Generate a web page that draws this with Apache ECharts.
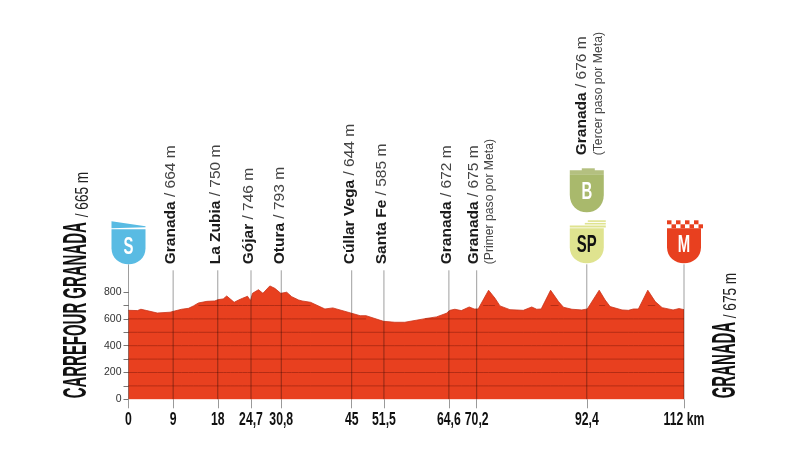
<!DOCTYPE html>
<html><head><meta charset="utf-8">
<style>html,body{margin:0;padding:0;background:#fff}#c{width:800px;height:450px}</style>
<script src="https://cdn.jsdelivr.net/npm/echarts@6/dist/echarts.min.js"></script>
</head><body><div id="c"></div>
<script>
const profile = [[0,664],[1.8,662],[2.5,672],[3.7,662],[5.8,644],[8.4,650],[9.1,657],[10.7,672],[12.1,679],[13.1,697],[14.1,719],[15.8,731],[17.4,734],[18.1,744],[19.1,749],[19.8,771],[20.6,746],[21.3,724],[22.2,741],[23,754],[24,769],[24.6,736],[25,791],[26.2,818],[27.1,791],[28.5,846],[29.5,828],[30.7,791],[31.9,799],[32.9,766],[34.3,741],[35,734],[36.7,724],[39.6,674],[41.2,682],[45,642],[46.7,624],[47.9,624],[51.4,582],[53.7,575],[55.7,575],[58,590],[59.8,602],[62.1,615],[64.1,642],[64.8,664],[65.8,672],[67.1,662],[68.7,689],[69.7,674],[70.5,674],[71.5,741],[72.6,814],[73.9,754],[74.9,697],[76.9,669],[79.6,664],[81.3,689],[82.3,672],[83.2,674],[85.1,814],[86.7,729],[87.7,687],[89.4,672],[91.4,667],[92.5,674],[94.9,814],[96.1,741],[97.1,692],[99.5,667],[100.8,664],[101.8,674],[102.8,674],[104.7,814],[106.2,729],[107.6,684],[109.8,667],[111,677],[112,669]];
const kmTicks = [0,9,18,24.7,30.8,45,51.5,64.6,70.2,92.4,112];
const kmLabels = ['0','9','18','24,7','30,8','45','51,5','64,6','70,2','92,4','112 km'];
const placeKm = [9,18,24.7,30.8,45,51.5,64.6,70.2,92.4];
const placeNames = ['Granada','La Zubia','Gójar','Otura','Cúllar Vega','Santa Fe','Granada','Granada','Granada'];
const placeHeights = [' / 664 m',' / 750 m',' / 746 m',' / 793 m',' / 644 m',' / 585 m',' / 672 m',' / 675 m',' / 676 m'];
const placeNotes = ['','','','','','','','(Primer paso por Meta)','(Tercer paso por Meta)'];
const startTitle = ['CARREFOUR GRANADA','/ 665 m'];
const finishTitle = ['GRANADA','/ 675 m'];
const gridLevels = [100,200,300,400,500,600,700];
const yTicks = [0,100,200,300,400,500,600,700,800];
const yLabels = [0,200,400,600,800];
const badgeKm = [0,92.4,92.4,112];
const badgeText = ['S','SP','B','M'];

const RED='#e8401f', NARROW='"Liberation Sans Narrow","Liberation Sans",sans-serif', SANS='"Liberation Sans",Arial,sans-serif';
const shield='M0 0H34V19C34 29 26 35 17 35C8 35 0 29 0 19Z';
const chart=echarts.init(document.getElementById('c'),null,{renderer:'canvas'});

function poleRender(p,api){
  const km=api.value(0), b=api.coord([km,0]);
  const top = km===0||km===112||km===92.4 ? b[1]-135 : b[1]-129;
  return {type:'line',shape:{x1:b[0],y1:top,x2:b[0],y2:b[1]},style:{stroke:'rgba(0,0,0,0.38)',lineWidth:1}};
}
const poleKm=[0].concat(placeKm,[112]);

function placeRender(p,api){
  const i=p.dataIndex, b=api.coord([placeKm[i],0]);
  const high=i===8, y=b[1]-(high?244:135), note=placeNotes[i];
  const kids=[{type:'text',x:b[0]-(high?5:note?3:2),y:y,rotation:Math.PI/2,
    style:{text:'{b|'+placeNames[i]+'}{r|'+placeHeights[i]+'}',align:'left',verticalAlign:'middle',
      rich:{b:{font:'bold 15.5px '+SANS,fill:'#1a1a1a'},r:{font:'15.5px '+SANS,fill:'#444'}}}}];
  if(note) kids.push({type:'text',x:b[0]+(high?12:13),y:y,rotation:Math.PI/2,
    style:{text:note,align:'left',verticalAlign:'middle',font:'12.2px '+SANS,fill:'#444'}});
  return {type:'group',children:kids};
}
function axisLabelRender(p,api){
  const i=p.dataIndex,b=api.coord([kmTicks[i],0]);
  return {type:'text',x:b[0],y:b[1]+21,scaleX:0.68,
    style:{text:kmLabels[i],align:'center',verticalAlign:'middle',font:'bold 18px '+NARROW,fill:'#111'}};
}
function letter(t,y,fill,sx){return {type:'text',x:0,y:y,scaleX:sx||0.62,style:{text:t,align:'center',verticalAlign:'middle',font:'bold 24px '+NARROW,fill:fill}};}
function badgeRender(p,api){
  const i=p.dataIndex,b=api.coord([badgeKm[i],0]),k=badgeText[i],kids=[];
  const sh=(y,h,c)=>({type:'path',shape:{pathData:shield,x:-17,y:y,width:34,height:h,layout:'cover'},style:{fill:c}});
  const rect=(x,y,w,h,c)=>({type:'rect',shape:{x,y,width:w,height:h},style:{fill:c}});
  let top;
  if(k==='S'){ top=b[1]-178;
    kids.push({type:'polygon',shape:{points:[[-17,0],[17,5],[17,6],[-17,7]]},style:{fill:'#59bbe3'}});
    kids.push(sh(8,35,'#59bbe3'),letter('S',26,'#fff'));
  } else if(k==='SP'){ top=b[1]-179;
    kids.push(rect(1,0,18,1.6,'#dfe38f'),rect(-2,2.6,21,1.6,'#dfe38f'),rect(-17,5.3,36,2,'#dfe38f'));
    kids.push(sh(8,35,'#dfe38f'),letter('SP',25,'#111'));
  } else if(k==='B'){ top=b[1]-231;
    kids.push(rect(-5,0,13,3,'#b4c080'),rect(-17,2,34,4,'#b4c080'));
    kids.push(sh(6,38,'#a9b96c'),letter('B',24,'#fff'));
  } else { top=b[1]-179;
    for(let c=0;c<4;c++){kids.push(rect(-17+c*9,0,4.5,4,RED));kids.push(rect(-12.5+c*9,4,4.5,4,RED));}
    kids.push(sh(8,35,RED),letter('M',25,'#fff'));
  }
  return {type:'group',x:b[0],y:top,children:kids};
}
function titleRender(p,api){
  const finish=p.dataIndex===1, b=api.coord([finish?112:0,0]);
  const t=finish?finishTitle:startTitle;
  const edge=b[0]+(finish?58:-35);
  const boldLen=finish?75:176;
  return {type:'group',children:[
    {type:'text',x:edge,y:b[1]-1,rotation:Math.PI/2,scaleX:0.453,style:{text:t[0],align:'left',verticalAlign:'bottom',font:'bold 33px '+NARROW,fill:'#111'}},
    {type:'text',x:edge-1.5,y:b[1]-1-boldLen-5,rotation:Math.PI/2,scaleX:0.78,style:{text:t[1],align:'left',verticalAlign:'bottom',font:'17.5px '+NARROW,fill:'#222'}}
  ]};
}
const custom=(name,data,fn,z)=>({type:'custom',name,data,renderItem:fn,z,clip:false,silent:true,coordinateSystem:'cartesian2d',encode:{x:0,y:1}});

chart.setOption({
  animation:false,
  grid:{left:128.5,right:116,top:265.3,bottom:50.7,containLabel:false},
  tooltip:{show:false},
  xAxis:{type:'value',min:0,max:112,splitLine:{show:false},axisLine:{show:false},
    axisLabel:{show:false},
    axisTick:{show:true,customValues:kmTicks,length:9,lineStyle:{color:'#9a9a9a',width:1}}},
  yAxis:{type:'value',min:0,max:1000,interval:100,splitLine:{show:false},axisLine:{show:false},
    axisTick:{show:true,customValues:yTicks,length:5,lineStyle:{color:'#777',width:1}},
    axisLabel:{customValues:yLabels,margin:7,fontFamily:'Liberation Sans',fontSize:10.5,color:'#333'}},
  series:[
    {type:'line',name:'Perfil',data:profile,symbol:'none',smooth:false,z:2,
      lineStyle:{color:'#c9341a',width:0.8},areaStyle:{color:RED,opacity:1},silent:true},
    ...gridLevels.map(l=>({type:'line',name:'g'+l,z:3,symbol:'none',silent:true,connectNulls:false,
      data:profile.map(d=>[d[0],d[1]>=l?l:null]),lineStyle:{color:'#b42c14',width:1}})),
    custom('poles',poleKm.map(k=>[k,0]),poleRender,4),
    custom('places',placeKm.map(k=>[k,0]),placeRender,5),
    custom('kmLabels',kmTicks.map(k=>[k,0]),axisLabelRender,5),
    custom('badges',badgeKm.map(k=>[k,0]),badgeRender,6),
    custom('titles',[[0,0],[112,0]],titleRender,5)
  ]
});
</script></body></html>
